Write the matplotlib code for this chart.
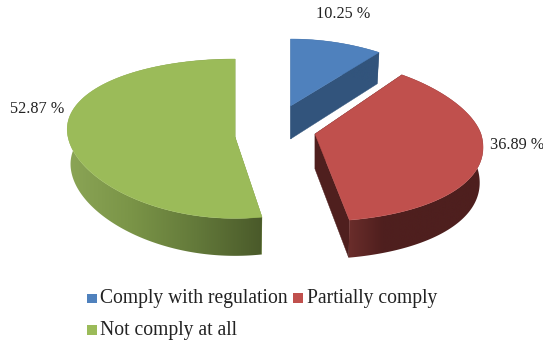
import matplotlib
matplotlib.use("Agg")
import matplotlib.pyplot as plt
import numpy as np
from matplotlib.colors import LinearSegmentedColormap
from matplotlib.patches import Polygon

categories = ["Comply with regulation", "Partially comply", "Not comply at all"]
values = [10.25, 36.89, 52.87]
value_labels = ["10.25 %", "36.89 %", "52.87 %"]
top_colors = ["#4f81bd", "#c0504d", "#9bbb59"]

W, H = 543, 343

# exploded slice layout: apex x/y, x radius, back and front y radius, taper
layout = [
    (290.5, 106, 169, 67, 80, 0.16),
    (315, 134, 166, 74, 87.5, 0.16),
    (235, 137, 167, 78, 81.4, -0.10),
]
depths = [33, 35, 35]
# wall shades, running left to right along each slice
wall_shades = [
    ["#32547c", "#32547c"],
    ["#6a2d2b", "#4f1f1e", "#4e1f1e", "#4e1f1e", "#4e1f1e"],
    ["#8ba556", "#7a9447", "#63793a", "#4a5a2a"],
]
face_shades = ["#32547c", "#4f1f1e", "#7e9a48"]


def slice_outline(theta, geom):
    ax_x, ax_y, rx, ry_back, ry_front, taper = geom
    u, v = np.sin(theta), np.cos(theta)
    x = ax_x + rx * u * (1 - taper * v)
    y = ax_y - np.where(v > 0, ry_back, ry_front) * v
    return x, y


def extrude(x, y, geom, depth):
    ax_x, ax_y = geom[0], geom[1]
    return ax_x + (x - ax_x) * 0.98, y + depth + 0.03 * (y - ax_y)


fig = plt.figure(figsize=(W / 100, H / 100), dpi=100)
ax = fig.add_axes([0, 0, 1, 1])
ax.axis("off")

angles = np.cumsum([0] + values) / sum(values) * 2 * np.pi
ramp = np.linspace(0, 1, 256).reshape(1, -1)

for i in range(len(values)):
    geom = layout[i]
    depth = depths[i]
    theta = np.linspace(angles[i], angles[i + 1], 160)
    x, y = slice_outline(theta, geom)
    xb, yb = extrude(x, y, geom, depth)
    apex = np.array([geom[0], geom[1]])
    apex_low = np.array([geom[0], geom[1] + depth])

    # cut faces first, then the curved wall, then the top
    for end in (0, -1):
        ax.fill([apex[0], x[end], xb[end], apex_low[0]],
                [apex[1], y[end], yb[end], apex_low[1]],
                color=face_shades[i], lw=0.3, zorder=i * 3 + 1)

    cmap = LinearSegmentedColormap.from_list("wall", wall_shades[i])
    wall = Polygon(np.c_[np.r_[x, xb[::-1]], np.r_[y, yb[::-1]]], closed=True,
                   facecolor="none", edgecolor="none", transform=ax.transData)
    ax.add_patch(wall)
    grad = ax.imshow(ramp, cmap=cmap, aspect="auto", zorder=i * 3 + 2,
                     extent=(x.min(), x.max(), yb.max() + 5, y.min() - 5))
    grad.set_clip_path(wall)

    ax.fill(np.r_[apex[0], x], np.r_[apex[1], y],
            color=top_colors[i], lw=0.3, zorder=i * 3 + 3)

ax.set_xlim(0, W)
ax.set_ylim(H, 0)

serif = "Liberation Serif"
label_pos = [(343, 14), (517, 145), (37, 109)]
for txt, (lx, ly) in zip(value_labels, label_pos):
    ax.text(lx, ly, txt, family=serif, fontsize=11.7, color="#222222",
            ha="center", va="center", zorder=20)

# legend laid out on two rows
legend_pos = [(87, 298.5), (293, 298), (87, 330)]
legend_text_x = [100, 307, 100]
for name, col, (sx, sy), tx in zip(categories, top_colors, legend_pos, legend_text_x):
    ax.fill([sx, sx + 9.5, sx + 9.5, sx], [sy - 4.7, sy - 4.7, sy + 4.7, sy + 4.7],
            color=col, lw=0, zorder=20)
    ax.text(tx, sy + 0.5, name, family=serif, fontsize=14.1, color="#222222",
            ha="left", va="center", zorder=20)

fig.savefig("out.png", dpi=100)
